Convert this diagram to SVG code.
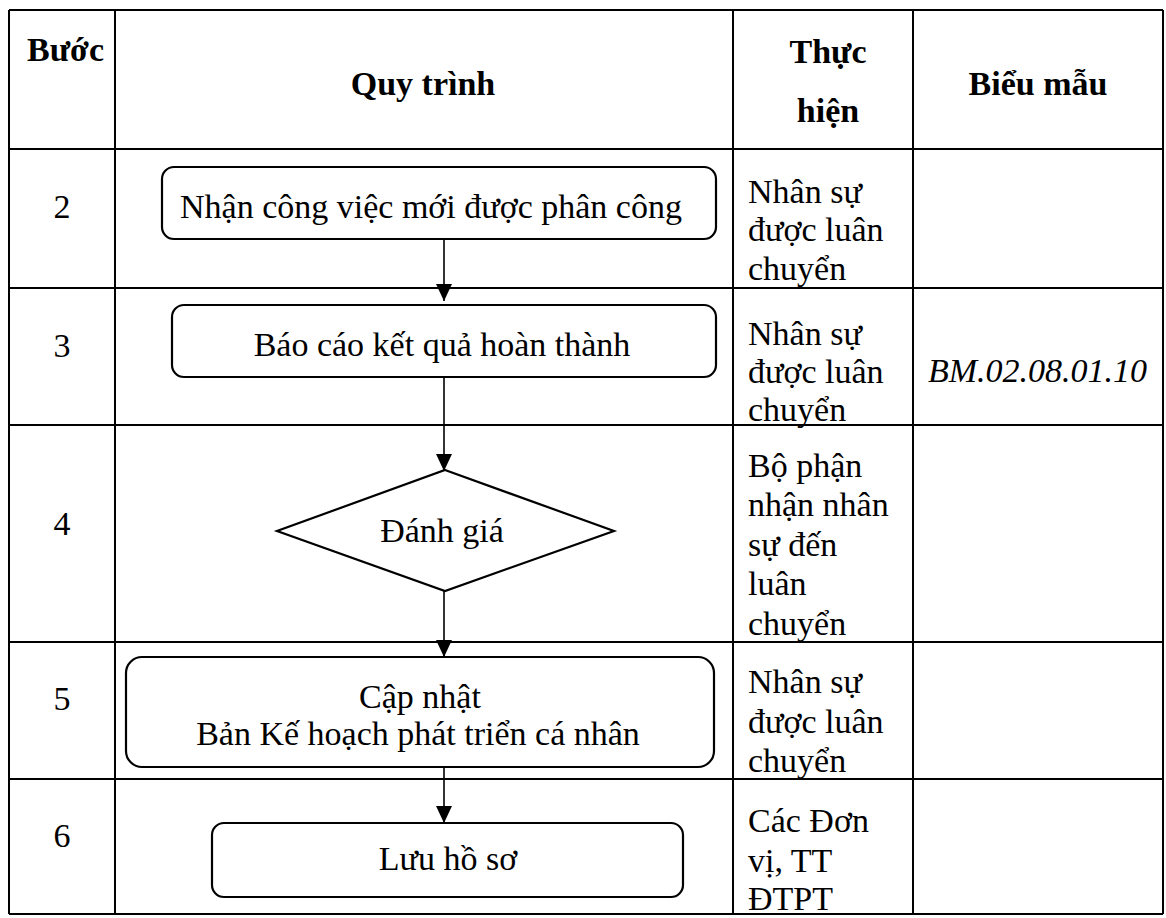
<svg xmlns="http://www.w3.org/2000/svg" width="1166" height="918" viewBox="0 0 1166 918">
<style>
.t{font-family:"Liberation Serif","Times New Roman",serif;font-size:34px;fill:#000}
.b{font-weight:bold}
.c{text-anchor:middle}
.i{font-style:italic}
.grid line{stroke:#000;stroke-width:2}
.node rect,.node polygon{fill:#fff;stroke:#000;stroke-width:2.2}
.conn line{stroke:#000;stroke-width:1.6}
</style>
<defs>
<marker id="ah" markerUnits="userSpaceOnUse" markerWidth="18" markerHeight="18" refX="17" refY="8" orient="auto" viewBox="0 0 18 16">
<path d="M0,0 L17,8 L0,16 Z" fill="#000"/>
</marker>
</defs>
<rect x="0" y="0" width="1166" height="918" fill="#fff"/>
<g id="table" class="grid">
<line x1="9" y1="10" x2="1163" y2="10"/>
<line x1="9" y1="149" x2="1163" y2="149"/>
<line x1="9" y1="288" x2="1163" y2="288"/>
<line x1="9" y1="425" x2="1163" y2="425"/>
<line x1="9" y1="642" x2="1163" y2="642"/>
<line x1="9" y1="779" x2="1163" y2="779"/>
<line x1="9" y1="914" x2="1163" y2="914"/>
<line x1="9" y1="10" x2="9" y2="914"/>
<line x1="115" y1="10" x2="115" y2="914"/>
<line x1="733" y1="10" x2="733" y2="914"/>
<line x1="913" y1="10" x2="913" y2="914"/>
<line x1="1163" y1="10" x2="1163" y2="914"/>
</g>
<g id="header">
<text class="t b" x="27" y="61">Bước</text>
<text class="t b c" x="423" y="95">Quy trình</text>
<text class="t b c" x="828" y="63">Thực</text>
<text class="t b c" x="828" y="122">hiện</text>
<text class="t b c" x="1038" y="95">Biểu mẫu</text>
</g>
<g id="steps">
<text class="t c" x="62" y="218">2</text>
<text class="t c" x="62" y="357">3</text>
<text class="t c" x="62" y="535">4</text>
<text class="t c" x="62" y="710">5</text>
<text class="t c" x="62" y="847">6</text>
</g>
<g id="performers">
<text class="t" x="748" y="203">Nhân sự</text>
<text class="t" x="748" y="241">được luân</text>
<text class="t" x="748" y="280">chuyển</text>
<text class="t" x="748" y="345">Nhân sự</text>
<text class="t" x="748" y="383">được luân</text>
<text class="t" x="748" y="421">chuyển</text>
<text class="t" x="748" y="477">Bộ phận</text>
<text class="t" x="748" y="516">nhận nhân</text>
<text class="t" x="748" y="556">sự đến</text>
<text class="t" x="748" y="595">luân</text>
<text class="t" x="748" y="635">chuyển</text>
<text class="t" x="748" y="693">Nhân sự</text>
<text class="t" x="748" y="733">được luân</text>
<text class="t" x="748" y="772">chuyển</text>
<text class="t" x="748" y="832">Các Đơn</text>
<text class="t" x="748" y="872">vị, TT</text>
<text class="t" x="748" y="910">ĐTPT</text>
</g>
<g id="forms">
<text class="t i" x="928" y="382">BM.02.08.01.10</text>
</g>
<g id="connectors" class="conn">
<line x1="444" y1="239" x2="444" y2="301" marker-end="url(#ah)"/>
<line x1="444" y1="377" x2="444" y2="471" marker-end="url(#ah)"/>
<line x1="444" y1="591" x2="444" y2="657" marker-end="url(#ah)"/>
<line x1="444" y1="767" x2="444" y2="823" marker-end="url(#ah)"/>
</g>
<g id="node-receive" class="node">
<rect x="162" y="167" width="554" height="72" rx="12"/>
<text class="t c" x="431" y="218">Nhận công việc mới được phân công</text>
</g>
<g id="node-report" class="node">
<rect x="172" y="305" width="544" height="72" rx="12"/>
<text class="t c" x="442" y="356">Báo cáo kết quả hoàn thành</text>
</g>
<g id="node-evaluate" class="node">
<polygon points="445,470 614,531 445,591 277,531"/>
<text class="t c" x="442" y="542">Đánh giá</text>
</g>
<g id="node-update" class="node">
<rect x="126" y="657" width="588" height="110" rx="16"/>
<text class="t c" x="420" y="708">Cập nhật</text>
<text class="t c" x="418" y="745">Bản Kế hoạch phát triển cá nhân</text>
</g>
<g id="node-archive" class="node">
<rect x="212" y="823" width="471" height="74" rx="12"/>
<text class="t c" x="448" y="870">Lưu hồ sơ</text>
</g>
</svg>
